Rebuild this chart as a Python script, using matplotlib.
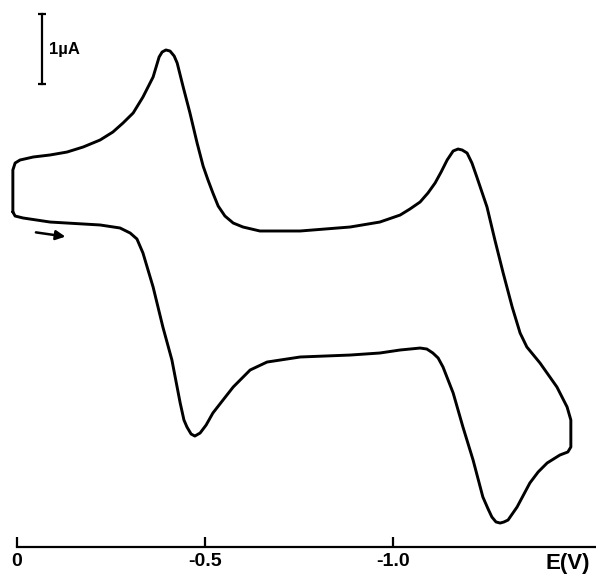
import numpy as np
import matplotlib
matplotlib.use("Agg")
import matplotlib.pyplot as plt

plt.rcParams['font.family'] = ['Liberation Sans', 'DejaVu Sans']

# Potential (V) and current (uA, arbitrary offset), traced as a closed loop
potential = [
    0.011, 0.005, -0.016, -0.088, -0.221, -0.274, -0.301, -0.319, -0.335, -0.362,
    -0.388, -0.412, -0.434, -0.444, -0.452, -0.463, -0.473, -0.487, -0.503, -0.521,
    -0.548, -0.575, -0.620, -0.665, -0.753, -0.886, -0.965, -1.019, -1.072, -1.090,
    -1.106, -1.120, -1.133, -1.160, -1.186, -1.213, -1.239, -1.253, -1.263, -1.274,
    -1.285, -1.295, -1.306, -1.330, -1.364, -1.386, -1.410, -1.444, -1.465, -1.473,
    -1.473, -1.463, -1.436, -1.391, -1.356, -1.338, -1.317, -1.293, -1.271, -1.250,
    -1.223, -1.210, -1.197, -1.184, -1.173, -1.160, -1.144, -1.128, -1.112, -1.093,
    -1.072, -1.045, -1.019, -0.965, -0.886, -0.753, -0.646, -0.601, -0.575, -0.553,
    -0.535, -0.521, -0.508, -0.495, -0.479, -0.460, -0.442, -0.426, -0.418, -0.407,
    -0.396, -0.386, -0.378, -0.362, -0.335, -0.309, -0.282, -0.255, -0.221, -0.176,
    -0.133, -0.088, -0.043, -0.008, 0.005, 0.011, 0.011,
]
current = [
    1.114, 1.057, 1.029, 0.971, 0.929, 0.886, 0.814, 0.729, 0.529, 0.043,
    -0.529, -1.000, -1.614, -1.857, -1.957, -2.057, -2.086, -2.043, -1.929, -1.757,
    -1.571, -1.386, -1.143, -1.029, -0.957, -0.929, -0.900, -0.857, -0.829, -0.843,
    -0.900, -0.971, -1.100, -1.471, -1.957, -2.429, -2.957, -3.129, -3.243, -3.314,
    -3.329, -3.314, -3.286, -3.100, -2.757, -2.600, -2.471, -2.357, -2.314, -2.243,
    -1.857, -1.671, -1.386, -1.043, -0.814, -0.614, -0.243, 0.243, 0.714, 1.186,
    1.614, 1.814, 1.957, 2.000, 2.014, 1.986, 1.857, 1.686, 1.529, 1.386,
    1.257, 1.157, 1.071, 0.971, 0.900, 0.843, 0.843, 0.900, 0.957, 1.057,
    1.200, 1.386, 1.571, 1.771, 2.100, 2.529, 2.900, 3.243, 3.343, 3.414,
    3.429, 3.400, 3.329, 3.043, 2.757, 2.529, 2.386, 2.257, 2.143, 2.043,
    1.971, 1.929, 1.900, 1.857, 1.814, 1.714, 1.114,
]

tick_values = [0.0, -0.5, -1.0]
tick_labels = ["0", "-0.5", "-1.0"]
axis_label = "E(V)"
scale_bar = [2.943, 3.943]   # a 1 uA current scale bar
scale_label = "1µA"
arrow_potential = [-0.043, -0.136]
arrow_current = [0.829, 0.757]

fig = plt.figure(figsize=(5.96, 5.74), dpi=100)
ax = fig.add_axes([0, 0, 1, 1])
ax.set_xlim(0.0452, -1.5399)
ax.set_ylim(-4.057, 4.143)

ax.plot(potential, current, color='black', lw=2.1, solid_joinstyle='round', solid_capstyle='round')

# x axis
for s in ['top', 'left', 'right']:
    ax.spines[s].set_visible(False)
ax.spines['bottom'].set_position(('data', -3.671))
ax.spines['bottom'].set_bounds(0.0, -1.5399)
ax.spines['bottom'].set_linewidth(1.6)
ax.set_yticks([])
ax.set_xticks(tick_values)
ax.set_xticklabels(tick_labels, fontsize=14, fontweight='bold')
ax.tick_params(axis='x', direction='in', length=7, width=1.6, pad=4)
ax.text(-1.4654, -3.75, axis_label, ha='center', va='top', fontsize=16, fontweight='bold')

# scale bar
xb = -0.0665
ax.plot([xb, xb], scale_bar, color='black', lw=1.6)
ax.plot([xb, xb], scale_bar, color='black', lw=0, marker='_', markersize=6, markeredgewidth=1.6)
ax.text(-0.0851, 3.43, scale_label, ha='left', va='center', fontsize=12, fontweight='bold')

# arrow
ax.annotate('', xy=(arrow_potential[1], arrow_current[1]), xytext=(arrow_potential[0], arrow_current[0]),
            arrowprops=dict(arrowstyle='-|>', color='black', lw=1.8, mutation_scale=14))

fig.savefig('out.png', dpi=100)
